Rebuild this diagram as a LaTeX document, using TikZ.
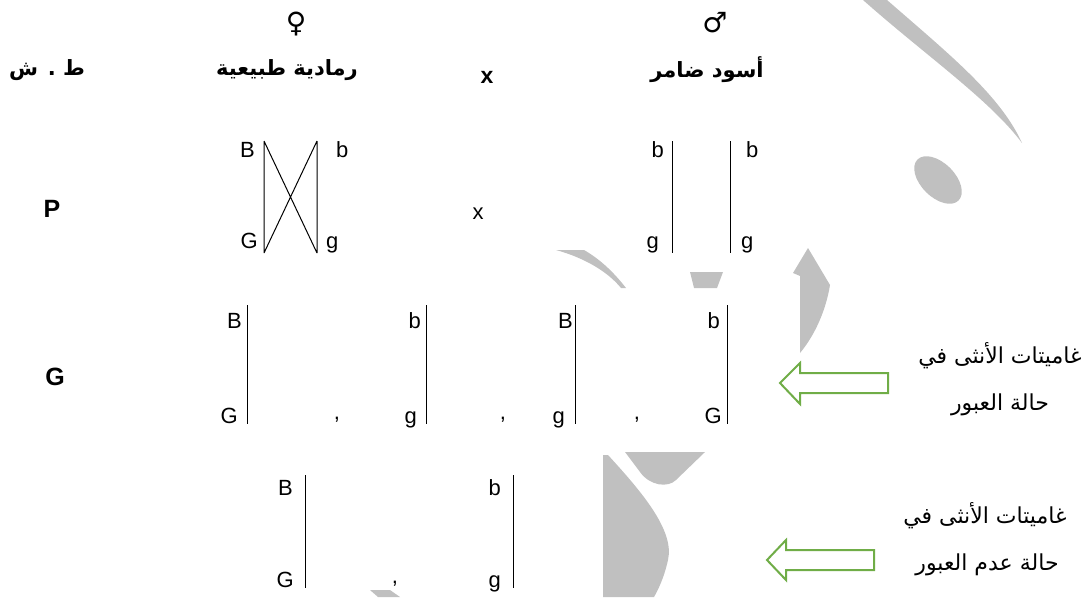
\documentclass[tikz,border=0pt]{standalone}
\usepackage{fontspec}
\setmainfont{Liberation Sans}
\newfontfamily\arabicfont[Script=Arabic]{DejaVu Sans}
\newfontfamily\symfont{DejaVu Sans}
\TeXXeTstate=1
\definecolor{wmgray}{RGB}{192,192,192}
\definecolor{arrowgreen}{RGB}{112,173,71}

\begin{document}
\begin{tikzpicture}[x=1pt,y=-1pt,
  allele/.style={inner sep=0pt, font=\fontsize{22}{24}\selectfont},
  rowlabel/.style={inner sep=0pt, font=\bfseries\fontsize{25}{28}\selectfont},
  crossmark/.style={inner sep=0pt, font=\bfseries\fontsize{23}{26}\selectfont},
  sexsym/.style={inner sep=0pt, font=\symfont\fontsize{28}{30}\selectfont},
  headar/.style={inner sep=0pt, font=\arabicfont\bfseries\fontsize{21}{24}\selectfont},
  notear/.style={inner sep=0pt, font=\arabicfont\fontsize{22}{24}\selectfont},
  chrom/.style={line width=1pt},
  wm/.style={fill=wmgray, draw=none},
  blockarrow/.style={draw=arrowgreen, line width=2pt, fill=white, line join=miter},
]
\useasboundingbox (0,0) rectangle (1091,597);

% ---- light grey background ornament ----
\fill[wm] (863,0) .. controls (925,55) and (990,100) .. (1022,143)
          .. controls (1000,95) and (950,55) .. (887,0) -- cycle;
\fill[wm, rotate around={-45:(938,180)}] (938,180) ellipse [x radius=29, y radius=17];
\fill[wm] (556,250) .. controls (585,258) and (608,272) .. (621,288) -- (626,288)
          .. controls (612,270) and (598,258) .. (584,250) -- cycle;
\fill[wm] (690,272) -- (723,272) -- (717,288) -- (694,288) -- cycle;
\fill[wm] (808,248) -- (830,285) .. controls (826,310) and (815,335) .. (800,353)
          -- (800,276) -- (793,273) -- cycle;
\fill[wm] (625,452) -- (705,452) -- (676,480) .. controls (668,488) and (650,486) .. (640,472) -- cycle;
\fill[wm] (603,455) -- (608,455) .. controls (640,490) and (675,530) .. (668,560)
          .. controls (664,578) and (658,590) .. (654,597) -- (603,597) -- cycle;
\fill[wm] (370,590) -- (390,590) -- (400,597) -- (378,597) -- cycle;

% ---- header ----
\node[sexsym] (female) at (296,24) {♀};
\node[sexsym] (male) at (715,23) {♂};
\node[headar] (hdr) at (47,70) {\beginR ط . ش\endR};
\node[headar] (hfem) at (287,70) {\beginR رمادية طبيعية\endR};
\node[crossmark, anchor=base] (hx) at (487,83) {x};
\node[headar] (hmale) at (707,70) {\beginR أسود ضامر\endR};

% ---- parents ----
\node[rowlabel, anchor=base] (rowP) at (52,217) {P};
\node[allele, anchor=base east] (pB) at (255,157) {B};
\node[allele, anchor=base east] (pG) at (258,248) {G};
\node[allele, anchor=base west] (pb) at (336,157) {b};
\node[allele, anchor=base west] (pg) at (326,248) {g};
\coordinate (fL1) at (264,141); \coordinate (fL2) at (264,253);
\coordinate (fR1) at (317,141); \coordinate (fR2) at (317,253);
\draw[chrom] (fL1) -- (fL2) (fR1) -- (fR2) (fL1) -- (fR2) (fR1) -- (fL2);

\node[allele, anchor=base] (px) at (478,219) {x};

\node[allele, anchor=base east] (mb1) at (664,157) {b};
\node[allele, anchor=base east] (mg1) at (659,248) {g};
\node[allele, anchor=base west] (mb2) at (746,157) {b};
\node[allele, anchor=base west] (mg2) at (741,248) {g};
\coordinate (mL1) at (672,141); \coordinate (mL2) at (672,253);
\coordinate (mR1) at (730,141); \coordinate (mR2) at (730,253);
\draw[chrom] (mL1) -- (mL2) (mR1) -- (mR2);

% ---- gametes with crossing over ----
\node[rowlabel, anchor=base] (rowG) at (55,385) {G};
\node[allele, anchor=base east] (g1t) at (242,328) {B};
\node[allele, anchor=base east] (g1b) at (238,423) {G};
\node[allele, anchor=base] (c1) at (337,419) {,};
\node[allele, anchor=base east] (g2t) at (421,328) {b};
\node[allele, anchor=base east] (g2b) at (417,423) {g};
\node[allele, anchor=base] (c2) at (503,419) {,};
\node[allele, anchor=base east] (g3t) at (573,328) {B};
\node[allele, anchor=base east] (g3b) at (565,423) {g};
\node[allele, anchor=base] (c3) at (637,419) {,};
\node[allele, anchor=base east] (g4t) at (720,328) {b};
\node[allele, anchor=base east] (g4b) at (722,423) {G};
\foreach \i/\xx in {1/247,2/426,3/575,4/727}{
  \coordinate (gt\i) at (\xx,305); \coordinate (gb\i) at (\xx,424);
  \draw[chrom] (gt\i) -- (gb\i);
}

% ---- gametes without crossing over ----
\node[allele, anchor=base east] (n1t) at (293,495) {B};
\node[allele, anchor=base east] (n1b) at (294,587) {G};
\node[allele, anchor=base] (c4) at (395,583) {,};
\node[allele, anchor=base east] (n2t) at (501,495) {b};
\node[allele, anchor=base east] (n2b) at (501,587) {g};
\foreach \i/\xx in {1/305,2/513}{
  \coordinate (nt\i) at (\xx,475); \coordinate (nb\i) at (\xx,588);
  \draw[chrom] (nt\i) -- (nb\i);
}

% ---- side notes with hollow arrows ----
\draw[blockarrow] (780,383) -- (800,363) -- (800,373) -- (888,373) -- (888,393)
                  -- (800,393) -- (800,404) -- cycle;
\node[notear] (note1a) at (1000,356) {\beginR غاميتات الأنثى في\endR};
\node[notear] (note1b) at (1000,405) {\beginR حالة العبور\endR};

\draw[blockarrow] (767,560) -- (786,540) -- (786,550) -- (874,550) -- (874,570)
                  -- (786,570) -- (786,580) -- cycle;
\node[notear] (note2a) at (985,516) {\beginR غاميتات الأنثى في\endR};
\node[notear] (note2b) at (987,565) {\beginR حالة عدم العبور\endR};
\end{tikzpicture}
\end{document}
